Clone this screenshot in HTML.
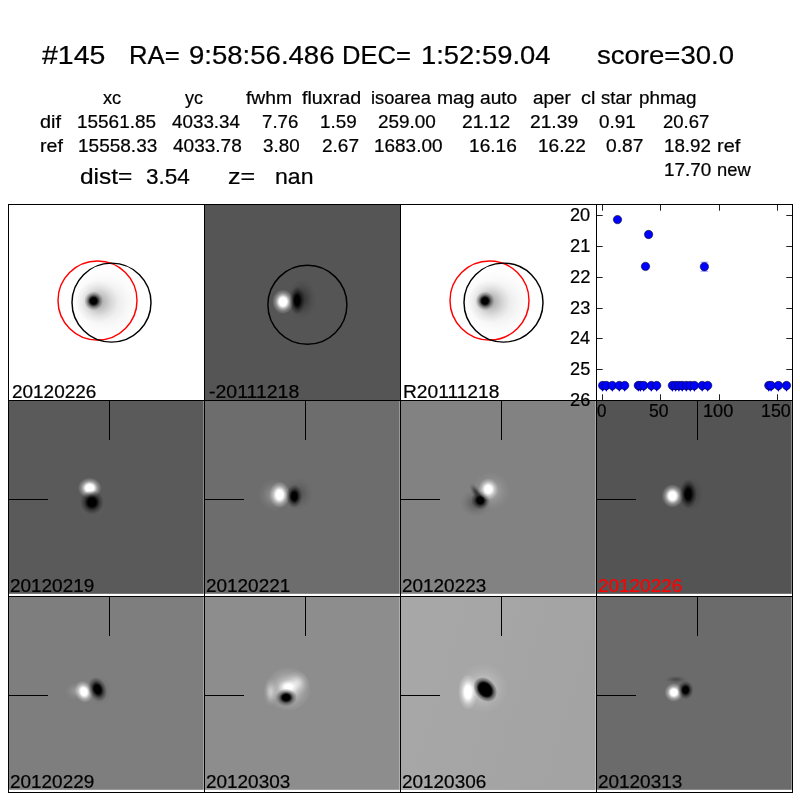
<!DOCTYPE html>
<html><head><meta charset="utf-8"><title>candidate 145</title>
<style>
html,body{margin:0;padding:0;background:#fff;}
body{width:800px;height:800px;position:relative;overflow:hidden;font-family:"Liberation Sans",sans-serif;color:#000;}
svg{position:absolute;left:0;top:0;}
#txt{position:absolute;left:0;top:0;width:800px;height:800px;will-change:transform;}
span{position:absolute;white-space:pre;transform-origin:0 0;display:block;-webkit-text-stroke:0.22px currentColor;}
.t{font-size:25.43px;line-height:25.43px;}
.m{font-size:17.66px;line-height:17.66px;}
.l{font-size:21.19px;line-height:21.19px;}
</style></head><body>
<svg width="800" height="800" viewBox="0 0 800 800">
<defs><radialGradient id="gw"><stop offset="0.000" stop-color="#fff" stop-opacity="1.000"/><stop offset="0.083" stop-color="#fff" stop-opacity="1.000"/><stop offset="0.167" stop-color="#fff" stop-opacity="1.000"/><stop offset="0.250" stop-color="#fff" stop-opacity="1.000"/><stop offset="0.333" stop-color="#fff" stop-opacity="1.000"/><stop offset="0.417" stop-color="#fff" stop-opacity="0.872"/><stop offset="0.500" stop-color="#fff" stop-opacity="0.687"/><stop offset="0.583" stop-color="#fff" stop-opacity="0.518"/><stop offset="0.667" stop-color="#fff" stop-opacity="0.374"/><stop offset="0.750" stop-color="#fff" stop-opacity="0.259"/><stop offset="0.833" stop-color="#fff" stop-opacity="0.171"/><stop offset="0.917" stop-color="#fff" stop-opacity="0.109"/><stop offset="1.000" stop-color="#fff" stop-opacity="0.000"/></radialGradient><radialGradient id="gb"><stop offset="0.000" stop-color="#000" stop-opacity="1.000"/><stop offset="0.083" stop-color="#000" stop-opacity="1.000"/><stop offset="0.167" stop-color="#000" stop-opacity="1.000"/><stop offset="0.250" stop-color="#000" stop-opacity="1.000"/><stop offset="0.333" stop-color="#000" stop-opacity="1.000"/><stop offset="0.417" stop-color="#000" stop-opacity="0.872"/><stop offset="0.500" stop-color="#000" stop-opacity="0.687"/><stop offset="0.583" stop-color="#000" stop-opacity="0.518"/><stop offset="0.667" stop-color="#000" stop-opacity="0.374"/><stop offset="0.750" stop-color="#000" stop-opacity="0.259"/><stop offset="0.833" stop-color="#000" stop-opacity="0.171"/><stop offset="0.917" stop-color="#000" stop-opacity="0.109"/><stop offset="1.000" stop-color="#000" stop-opacity="0.000"/></radialGradient><radialGradient id="gbh"><stop offset="0.000" stop-color="#000" stop-opacity="1.000"/><stop offset="0.083" stop-color="#000" stop-opacity="1.000"/><stop offset="0.167" stop-color="#000" stop-opacity="1.000"/><stop offset="0.250" stop-color="#000" stop-opacity="1.000"/><stop offset="0.333" stop-color="#000" stop-opacity="1.000"/><stop offset="0.417" stop-color="#000" stop-opacity="1.000"/><stop offset="0.500" stop-color="#000" stop-opacity="1.000"/><stop offset="0.583" stop-color="#000" stop-opacity="0.898"/><stop offset="0.667" stop-color="#000" stop-opacity="0.648"/><stop offset="0.750" stop-color="#000" stop-opacity="0.448"/><stop offset="0.833" stop-color="#000" stop-opacity="0.297"/><stop offset="0.917" stop-color="#000" stop-opacity="0.188"/><stop offset="1.000" stop-color="#000" stop-opacity="0.000"/></radialGradient><radialGradient id="gwh"><stop offset="0.000" stop-color="#fff" stop-opacity="1.000"/><stop offset="0.083" stop-color="#fff" stop-opacity="1.000"/><stop offset="0.167" stop-color="#fff" stop-opacity="1.000"/><stop offset="0.250" stop-color="#fff" stop-opacity="1.000"/><stop offset="0.333" stop-color="#fff" stop-opacity="1.000"/><stop offset="0.417" stop-color="#fff" stop-opacity="1.000"/><stop offset="0.500" stop-color="#fff" stop-opacity="1.000"/><stop offset="0.583" stop-color="#fff" stop-opacity="0.898"/><stop offset="0.667" stop-color="#fff" stop-opacity="0.648"/><stop offset="0.750" stop-color="#fff" stop-opacity="0.448"/><stop offset="0.833" stop-color="#fff" stop-opacity="0.297"/><stop offset="0.917" stop-color="#fff" stop-opacity="0.188"/><stop offset="1.000" stop-color="#fff" stop-opacity="0.000"/></radialGradient><radialGradient id="gws"><stop offset="0.000" stop-color="#fff" stop-opacity="1.000"/><stop offset="0.083" stop-color="#fff" stop-opacity="0.979"/><stop offset="0.167" stop-color="#fff" stop-opacity="0.917"/><stop offset="0.250" stop-color="#fff" stop-opacity="0.823"/><stop offset="0.333" stop-color="#fff" stop-opacity="0.707"/><stop offset="0.417" stop-color="#fff" stop-opacity="0.581"/><stop offset="0.500" stop-color="#fff" stop-opacity="0.458"/><stop offset="0.583" stop-color="#fff" stop-opacity="0.345"/><stop offset="0.667" stop-color="#fff" stop-opacity="0.249"/><stop offset="0.750" stop-color="#fff" stop-opacity="0.172"/><stop offset="0.833" stop-color="#fff" stop-opacity="0.114"/><stop offset="0.917" stop-color="#fff" stop-opacity="0.072"/><stop offset="1.000" stop-color="#fff" stop-opacity="0.000"/></radialGradient><radialGradient id="gbs"><stop offset="0.000" stop-color="#000" stop-opacity="1.000"/><stop offset="0.083" stop-color="#000" stop-opacity="0.979"/><stop offset="0.167" stop-color="#000" stop-opacity="0.917"/><stop offset="0.250" stop-color="#000" stop-opacity="0.823"/><stop offset="0.333" stop-color="#000" stop-opacity="0.707"/><stop offset="0.417" stop-color="#000" stop-opacity="0.581"/><stop offset="0.500" stop-color="#000" stop-opacity="0.458"/><stop offset="0.583" stop-color="#000" stop-opacity="0.345"/><stop offset="0.667" stop-color="#000" stop-opacity="0.249"/><stop offset="0.750" stop-color="#000" stop-opacity="0.172"/><stop offset="0.833" stop-color="#000" stop-opacity="0.114"/><stop offset="0.917" stop-color="#000" stop-opacity="0.072"/><stop offset="1.000" stop-color="#000" stop-opacity="0.000"/></radialGradient></defs>
<rect x="205" y="205" width="195" height="195" fill="#555555"/>
<rect x="9" y="401" width="195" height="192.8" fill="#5a5a5a"/>
<rect x="205" y="401" width="195" height="192.8" fill="#6d6d6d"/>
<rect x="401" y="401" width="195" height="192.8" fill="#828282"/>
<rect x="597" y="401" width="195" height="192.8" fill="#545454"/>
<rect x="9" y="597" width="195" height="192.8" fill="#7e7e7e"/>
<rect x="205" y="597" width="195" height="192.8" fill="#8d8d8d"/>
<rect x="401" y="597" width="195" height="192.8" fill="#a5a5a5"/>
<rect x="597" y="597" width="195" height="192.8" fill="#6b6b6b"/>
<ellipse cx="105" cy="303" rx="36" ry="34" fill="url(#gbs)" opacity="0.11"/>
<ellipse cx="97" cy="301.5" rx="21" ry="21" fill="url(#gbs)" opacity="0.26"/>
<ellipse cx="93.6" cy="300.9" rx="9.3" ry="9.3" fill="url(#gb)"/>
<ellipse cx="497" cy="303" rx="36" ry="34" fill="url(#gbs)" opacity="0.11"/>
<ellipse cx="489" cy="301.5" rx="21" ry="21" fill="url(#gbs)" opacity="0.26"/>
<ellipse cx="485.0" cy="300.9" rx="9.3" ry="9.3" fill="url(#gb)"/>
<ellipse cx="302" cy="299" rx="14" ry="20" fill="url(#gbs)" opacity="0.4"/>
<ellipse cx="283" cy="301.7" rx="10.7" ry="12.09" fill="url(#gw)"/>
<ellipse cx="297.2" cy="300.5" rx="7.44" ry="13.95" fill="url(#gb)"/>
<ellipse cx="89.7" cy="488" rx="11.62" ry="10.23" fill="url(#gw)"/>
<ellipse cx="92" cy="502.3" rx="11.62" ry="12.09" fill="url(#gb)"/>
<ellipse cx="274" cy="495" rx="16" ry="16" fill="url(#gws)" opacity="0.25"/>
<ellipse cx="298" cy="494" rx="15" ry="16" fill="url(#gbs)" opacity="0.25"/>
<ellipse cx="279.6" cy="494.8" rx="10.23" ry="13.02" fill="url(#gw)"/>
<ellipse cx="294.3" cy="496.3" rx="7.91" ry="11.62" fill="url(#gb)"/>
<ellipse cx="491" cy="491" rx="19" ry="19" fill="url(#gws)" opacity="0.3"/>
<ellipse cx="476" cy="503" rx="16" ry="14" fill="url(#gbs)" opacity="0.3"/>
<ellipse cx="475.8" cy="492" rx="4.5" ry="10" fill="url(#gbs)" opacity="0.55" transform="rotate(-32 475.8 492)"/>
<ellipse cx="480.3" cy="500.4" rx="9.3" ry="8.84" fill="url(#gb)" transform="rotate(45 480.3 500.4)"/>
<ellipse cx="488.3" cy="489.2" rx="9.77" ry="10.7" fill="url(#gw)"/>
<ellipse cx="691" cy="494" rx="12" ry="17" fill="url(#gbs)" opacity="0.3"/>
<ellipse cx="672.5" cy="495.9" rx="10.7" ry="11.62" fill="url(#gw)"/>
<ellipse cx="688.2" cy="494.1" rx="8.37" ry="14.42" fill="url(#gb)"/>
<ellipse cx="77" cy="691" rx="12" ry="9" fill="url(#gws)" opacity="0.22"/>
<ellipse cx="100" cy="691" rx="12" ry="15" fill="url(#gbs)" opacity="0.15"/>
<ellipse cx="83.9" cy="691.7" rx="8.84" ry="11.16" fill="url(#gw)" transform="rotate(-20 83.9 691.7)"/>
<ellipse cx="97.5" cy="689.3" rx="8.93" ry="12.56" fill="url(#gb)" transform="rotate(-20 97.5 689.3)"/>
<ellipse cx="288" cy="689" rx="23" ry="22" fill="url(#gws)" opacity="0.7"/>
<ellipse cx="297" cy="683" rx="12" ry="12" fill="url(#gws)" opacity="0.6"/>
<ellipse cx="270.5" cy="692" rx="7" ry="14" fill="url(#gws)" opacity="0.5"/>
<ellipse cx="288.5" cy="686.8" rx="10.23" ry="6.98" fill="url(#gw)"/>
<ellipse cx="286.2" cy="697.5" rx="10.7" ry="8.84" fill="url(#gb)"/>
<linearGradient id="lg33" x1="0" y1="0" x2="1" y2="0.3"><stop offset="0" stop-color="#a8a8a8"/><stop offset="1" stop-color="#a3a3a3"/></linearGradient>
<rect x="401" y="597" width="195" height="192.8" fill="url(#lg33)"/>
<ellipse cx="483" cy="688" rx="25" ry="25" fill="url(#gws)" opacity="0.4"/>
<ellipse cx="468" cy="692" rx="9.77" ry="17.67" fill="url(#gw)"/>
<ellipse cx="485.2" cy="689.5" rx="10.5" ry="13.5" fill="url(#gbh)" transform="rotate(-40 485.2 689.5)"/>
<ellipse cx="676" cy="679.5" rx="12" ry="4" fill="url(#gbs)" opacity="0.3"/>
<ellipse cx="673.9" cy="692.4" rx="9.3" ry="9.3" fill="url(#gw)"/>
<ellipse cx="685.6" cy="690" rx="7.91" ry="9.3" fill="url(#gb)"/>
<rect x="203" y="401" width="1" height="193" fill="#fff" opacity="0.3"/>
<rect x="399" y="401" width="1" height="193" fill="#fff" opacity="0.3"/>
<rect x="595" y="401" width="1" height="193" fill="#fff" opacity="0.3"/>
<rect x="791" y="401" width="1" height="193" fill="#fff" opacity="0.3"/>
<rect x="203" y="597" width="1" height="193" fill="#fff" opacity="0.3"/>
<rect x="399" y="597" width="1" height="193" fill="#fff" opacity="0.3"/>
<rect x="595" y="597" width="1" height="193" fill="#fff" opacity="0.3"/>
<rect x="791" y="597" width="1" height="193" fill="#fff" opacity="0.3"/>
<circle cx="97.5" cy="300.5" r="39.5" fill="none" stroke="#f00" stroke-width="1.45"/>
<circle cx="111.5" cy="302.6" r="39.5" fill="none" stroke="#000" stroke-width="1.45"/>
<circle cx="307.4" cy="304.8" r="39.5" fill="none" stroke="#000" stroke-width="1.45"/>
<circle cx="489.5" cy="300.5" r="39.5" fill="none" stroke="#f00" stroke-width="1.45"/>
<circle cx="503.5" cy="302.6" r="39.5" fill="none" stroke="#000" stroke-width="1.45"/>
<rect x="109" y="400" width="1" height="40" fill="#000"/>
<rect x="8" y="499" width="40" height="1" fill="#000"/>
<rect x="305" y="400" width="1" height="40" fill="#000"/>
<rect x="204" y="499" width="40" height="1" fill="#000"/>
<rect x="501" y="400" width="1" height="40" fill="#000"/>
<rect x="400" y="499" width="40" height="1" fill="#000"/>
<rect x="697" y="400" width="1" height="40" fill="#000"/>
<rect x="596" y="499" width="40" height="1" fill="#000"/>
<rect x="109" y="596" width="1" height="40" fill="#000"/>
<rect x="8" y="695" width="40" height="1" fill="#000"/>
<rect x="305" y="596" width="1" height="40" fill="#000"/>
<rect x="204" y="695" width="40" height="1" fill="#000"/>
<rect x="501" y="596" width="1" height="40" fill="#000"/>
<rect x="400" y="695" width="40" height="1" fill="#000"/>
<rect x="697" y="596" width="1" height="40" fill="#000"/>
<rect x="596" y="695" width="40" height="1" fill="#000"/>
<rect x="8" y="204" width="1" height="589" fill="#000"/>
<rect x="204" y="204" width="1" height="589" fill="#000"/>
<rect x="400" y="204" width="1" height="589" fill="#000"/>
<rect x="596" y="204" width="1" height="589" fill="#000"/>
<rect x="792" y="204" width="1" height="589" fill="#000"/>
<rect x="8" y="204" width="785" height="1" fill="#000"/>
<rect x="8" y="400" width="785" height="1" fill="#000"/>
<rect x="8" y="596" width="785" height="1" fill="#000"/>
<rect x="8" y="792" width="785" height="1" fill="#000"/>
<rect x="602.0" y="205" width="1" height="5.7" fill="#222"/>
<rect x="602.0" y="394.3" width="1" height="5.7" fill="#222"/>
<rect x="660.0" y="205" width="1" height="5.7" fill="#222"/>
<rect x="660.0" y="394.3" width="1" height="5.7" fill="#222"/>
<rect x="719.0" y="205" width="1" height="5.7" fill="#222"/>
<rect x="719.0" y="394.3" width="1" height="5.7" fill="#222"/>
<rect x="777.0" y="205" width="1" height="5.7" fill="#222"/>
<rect x="777.0" y="394.3" width="1" height="5.7" fill="#222"/>
<rect x="597" y="215.0" width="5.7" height="1" fill="#222"/>
<rect x="786.3" y="215.0" width="5.7" height="1" fill="#222"/>
<rect x="597" y="246.0" width="5.7" height="1" fill="#222"/>
<rect x="786.3" y="246.0" width="5.7" height="1" fill="#222"/>
<rect x="597" y="277.0" width="5.7" height="1" fill="#222"/>
<rect x="786.3" y="277.0" width="5.7" height="1" fill="#222"/>
<rect x="597" y="308.0" width="5.7" height="1" fill="#222"/>
<rect x="786.3" y="308.0" width="5.7" height="1" fill="#222"/>
<rect x="597" y="338.0" width="5.7" height="1" fill="#222"/>
<rect x="786.3" y="338.0" width="5.7" height="1" fill="#222"/>
<rect x="597" y="369.0" width="5.7" height="1" fill="#222"/>
<rect x="786.3" y="369.0" width="5.7" height="1" fill="#222"/>
<path d="M600.3000000000001 388 L604.9 388 L602.6 391.8 Z" fill="#00f"/>
<path d="M604.0 388 L608.5999999999999 388 L606.3 391.8 Z" fill="#00f"/>
<path d="M610.0 388 L614.5999999999999 388 L612.3 391.8 Z" fill="#00f"/>
<path d="M617.0 388 L621.5999999999999 388 L619.3 391.8 Z" fill="#00f"/>
<path d="M622.4000000000001 388 L627.0 388 L624.7 391.8 Z" fill="#00f"/>
<path d="M636.0 388 L640.5999999999999 388 L638.3 391.8 Z" fill="#00f"/>
<path d="M638.1 388 L642.6999999999999 388 L640.4 391.8 Z" fill="#00f"/>
<path d="M641.4000000000001 388 L646.0 388 L643.7 391.8 Z" fill="#00f"/>
<path d="M649.0 388 L653.5999999999999 388 L651.3 391.8 Z" fill="#00f"/>
<path d="M654.4000000000001 388 L659.0 388 L656.7 391.8 Z" fill="#00f"/>
<path d="M670.1 388 L674.6999999999999 388 L672.4 391.8 Z" fill="#00f"/>
<path d="M673.4000000000001 388 L678.0 388 L675.7 391.8 Z" fill="#00f"/>
<path d="M676.6 388 L681.1999999999999 388 L678.9 391.8 Z" fill="#00f"/>
<path d="M679.9000000000001 388 L684.5 388 L682.2 391.8 Z" fill="#00f"/>
<path d="M684.0 388 L688.5999999999999 388 L686.3 391.8 Z" fill="#00f"/>
<path d="M688.0 388 L692.5999999999999 388 L690.3 391.8 Z" fill="#00f"/>
<path d="M692.1 388 L696.6999999999999 388 L694.4 391.8 Z" fill="#00f"/>
<path d="M699.9000000000001 388 L704.5 388 L702.2 391.8 Z" fill="#00f"/>
<path d="M705.4000000000001 388 L710.0 388 L707.7 391.8 Z" fill="#00f"/>
<path d="M766.5 388 L771.0999999999999 388 L768.8 391.8 Z" fill="#00f"/>
<path d="M768.8000000000001 388 L773.4 388 L771.1 391.8 Z" fill="#00f"/>
<path d="M776.1 388 L780.6999999999999 388 L778.4 391.8 Z" fill="#00f"/>
<path d="M784.2 388 L788.8 388 L786.5 391.8 Z" fill="#00f"/>
<circle cx="602.6" cy="385.5" r="4.2" fill="#00f" stroke="#000" stroke-width="0.5"/>
<circle cx="606.3" cy="385.5" r="4.2" fill="#00f" stroke="#000" stroke-width="0.5"/>
<circle cx="612.3" cy="385.5" r="4.2" fill="#00f" stroke="#000" stroke-width="0.5"/>
<circle cx="619.3" cy="385.5" r="4.2" fill="#00f" stroke="#000" stroke-width="0.5"/>
<circle cx="624.7" cy="385.5" r="4.2" fill="#00f" stroke="#000" stroke-width="0.5"/>
<circle cx="638.3" cy="385.5" r="4.2" fill="#00f" stroke="#000" stroke-width="0.5"/>
<circle cx="640.4" cy="385.5" r="4.2" fill="#00f" stroke="#000" stroke-width="0.5"/>
<circle cx="643.7" cy="385.5" r="4.2" fill="#00f" stroke="#000" stroke-width="0.5"/>
<circle cx="651.3" cy="385.5" r="4.2" fill="#00f" stroke="#000" stroke-width="0.5"/>
<circle cx="656.7" cy="385.5" r="4.2" fill="#00f" stroke="#000" stroke-width="0.5"/>
<circle cx="672.4" cy="385.5" r="4.2" fill="#00f" stroke="#000" stroke-width="0.5"/>
<circle cx="675.7" cy="385.5" r="4.2" fill="#00f" stroke="#000" stroke-width="0.5"/>
<circle cx="678.9" cy="385.5" r="4.2" fill="#00f" stroke="#000" stroke-width="0.5"/>
<circle cx="682.2" cy="385.5" r="4.2" fill="#00f" stroke="#000" stroke-width="0.5"/>
<circle cx="686.3" cy="385.5" r="4.2" fill="#00f" stroke="#000" stroke-width="0.5"/>
<circle cx="690.3" cy="385.5" r="4.2" fill="#00f" stroke="#000" stroke-width="0.5"/>
<circle cx="694.4" cy="385.5" r="4.2" fill="#00f" stroke="#000" stroke-width="0.5"/>
<circle cx="702.2" cy="385.5" r="4.2" fill="#00f" stroke="#000" stroke-width="0.5"/>
<circle cx="707.7" cy="385.5" r="4.2" fill="#00f" stroke="#000" stroke-width="0.5"/>
<circle cx="768.8" cy="385.5" r="4.2" fill="#00f" stroke="#000" stroke-width="0.5"/>
<circle cx="771.1" cy="385.5" r="4.2" fill="#00f" stroke="#000" stroke-width="0.5"/>
<circle cx="778.4" cy="385.5" r="4.2" fill="#00f" stroke="#000" stroke-width="0.5"/>
<circle cx="786.5" cy="385.5" r="4.2" fill="#00f" stroke="#000" stroke-width="0.5"/>
<circle cx="617.5" cy="219.6" r="4.2" fill="#00f" stroke="#000" stroke-width="0.5"/>
<circle cx="648.6" cy="234.5" r="4.2" fill="#00f" stroke="#000" stroke-width="0.5"/>
<circle cx="645.5" cy="266.4" r="4.2" fill="#00f" stroke="#000" stroke-width="0.5"/>
<circle cx="704.4" cy="266.7" r="4.2" fill="#00f" stroke="#000" stroke-width="0.5"/>
<path d="M700.6 262.2 h7.6 M700.6 271.2 h7.6" stroke="#00f" stroke-width="0.6" opacity="0.7"/>
</svg>
<div id="txt">
<span class="t" style="left:41.76px;top:43.27px;transform:scaleX(1.1204);">#145</span>
<span class="t" style="left:129.05px;top:43.27px;transform:scaleX(1.0112);">RA=</span>
<span class="t" style="left:188.85px;top:43.27px;transform:scaleX(1.0833);">9:58:56.486</span>
<span class="t" style="left:342.46px;top:43.27px;transform:scaleX(1.0054);">DEC=</span>
<span class="t" style="left:420.98px;top:43.27px;transform:scaleX(1.0774);">1:52:59.04</span>
<span class="t" style="left:597.29px;top:43.27px;transform:scaleX(1.0830);">score=30.0</span>
<span class="m" style="left:103.49px;top:89.85px;transform:scaleX(1.0294);">xc</span>
<span class="m" style="left:185.37px;top:89.85px;transform:scaleX(1.0219);">yc</span>
<span class="m" style="left:245.98px;top:89.85px;transform:scaleX(1.0920);">fwhm</span>
<span class="m" style="left:302.22px;top:89.85px;transform:scaleX(1.1165);">fluxrad</span>
<span class="m" style="left:371.34px;top:89.85px;transform:scaleX(1.0352);">isoarea</span>
<span class="m" style="left:437.02px;top:89.85px;transform:scaleX(1.0938);">mag</span>
<span class="m" style="left:479.94px;top:89.85px;transform:scaleX(1.0840);">auto</span>
<span class="m" style="left:532.95px;top:89.85px;transform:scaleX(1.0691);">aper</span>
<span class="m" style="left:581.16px;top:89.85px;transform:scaleX(1.1264);">cl</span>
<span class="m" style="left:600.73px;top:89.85px;transform:scaleX(1.0480);">star</span>
<span class="m" style="left:638.80px;top:89.85px;transform:scaleX(1.0654);">phmag</span>
<span class="m" style="left:40.06px;top:113.85px;transform:scaleX(1.1245);">dif</span>
<span class="m" style="left:76.83px;top:113.85px;transform:scaleX(1.0727);">15561.85</span>
<span class="m" style="left:172.10px;top:113.85px;transform:scaleX(1.0656);">4033.34</span>
<span class="m" style="left:262.07px;top:113.85px;transform:scaleX(1.0575);">7.76</span>
<span class="m" style="left:319.78px;top:113.85px;transform:scaleX(1.0693);">1.59</span>
<span class="m" style="left:377.81px;top:113.85px;transform:scaleX(1.0714);">259.00</span>
<span class="m" style="left:461.54px;top:113.85px;transform:scaleX(1.0914);">21.12</span>
<span class="m" style="left:530.30px;top:113.85px;transform:scaleX(1.0882);">21.39</span>
<span class="m" style="left:599.20px;top:113.85px;transform:scaleX(1.0687);">0.91</span>
<span class="m" style="left:662.83px;top:113.85px;transform:scaleX(1.0501);">20.67</span>
<span class="m" style="left:39.65px;top:137.85px;transform:scaleX(1.1077);">ref</span>
<span class="m" style="left:78.02px;top:137.85px;transform:scaleX(1.0769);">15558.33</span>
<span class="m" style="left:173.35px;top:137.85px;transform:scaleX(1.0778);">4033.78</span>
<span class="m" style="left:263.45px;top:137.85px;transform:scaleX(1.0646);">3.80</span>
<span class="m" style="left:321.56px;top:137.85px;transform:scaleX(1.0769);">2.67</span>
<span class="m" style="left:374.27px;top:137.85px;transform:scaleX(1.0729);">1683.00</span>
<span class="m" style="left:469.26px;top:137.85px;transform:scaleX(1.0833);">16.16</span>
<span class="m" style="left:537.76px;top:137.85px;transform:scaleX(1.0806);">16.22</span>
<span class="m" style="left:606.18px;top:137.85px;transform:scaleX(1.0881);">0.87</span>
<span class="m" style="left:664.04px;top:137.85px;transform:scaleX(1.0627);">18.92</span>
<span class="m" style="left:716.73px;top:137.85px;transform:scaleX(1.1282);">ref</span>
<span class="m" style="left:664.03px;top:161.85px;transform:scaleX(1.0682);">17.70</span>
<span class="m" style="left:716.83px;top:161.85px;transform:scaleX(1.0400);">new</span>
<span class="l" style="left:79.99px;top:166.26px;transform:scaleX(1.1552);">dist=</span>
<span class="l" style="left:145.97px;top:166.26px;transform:scaleX(1.0621);">3.54</span>
<span class="l" style="left:228.21px;top:166.26px;transform:scaleX(1.1834);">z=</span>
<span class="l" style="left:274.75px;top:166.26px;transform:scaleX(1.0881);">nan</span>
<span class="m" style="left:11.81px;top:383.85px;transform:scaleX(1.0732);">20120226</span>
<span class="m" style="left:208.92px;top:383.85px;transform:scaleX(1.1034);">-20111218</span>
<span class="m" style="left:403.27px;top:383.85px;transform:scaleX(1.0860);">R20111218</span>
<span class="m" style="left:9.66px;top:577.85px;transform:scaleX(1.0719);">20120219</span>
<span class="m" style="left:205.66px;top:577.85px;transform:scaleX(1.0719);">20120221</span>
<span class="m" style="left:401.66px;top:577.85px;transform:scaleX(1.0719);">20120223</span>
<span class="m" style="left:597.66px;top:577.85px;transform:scaleX(1.0719);color:#f00;">20120226</span>
<span class="m" style="left:9.66px;top:773.85px;transform:scaleX(1.0719);">20120229</span>
<span class="m" style="left:205.66px;top:773.85px;transform:scaleX(1.0719);">20120303</span>
<span class="m" style="left:401.66px;top:773.85px;transform:scaleX(1.0719);">20120306</span>
<span class="m" style="left:597.66px;top:773.85px;transform:scaleX(1.0719);">20120313</span>
<span class="m" style="left:569.70px;top:207.05px;transform:scaleX(1.0262);">20</span>
<span class="m" style="left:569.70px;top:238.05px;transform:scaleX(1.0333);">21</span>
<span class="m" style="left:569.69px;top:269.05px;transform:scaleX(1.0406);">22</span>
<span class="m" style="left:569.70px;top:300.05px;transform:scaleX(1.0333);">23</span>
<span class="m" style="left:569.71px;top:330.05px;transform:scaleX(1.0192);">24</span>
<span class="m" style="left:569.70px;top:361.05px;transform:scaleX(1.0333);">25</span>
<span class="m" style="left:569.70px;top:392.05px;transform:scaleX(1.0333);">26</span>
<span class="m" style="left:597.48px;top:402.85px;transform:scaleX(0.9552);">0</span>
<span class="m" style="left:649.16px;top:402.85px;transform:scaleX(0.9918);">50</span>
<span class="m" style="left:702.98px;top:402.85px;transform:scaleX(1.0301);">100</span>
<span class="m" style="left:761.21px;top:402.85px;transform:scaleX(1.0082);">150</span>
</div>
</body></html>
